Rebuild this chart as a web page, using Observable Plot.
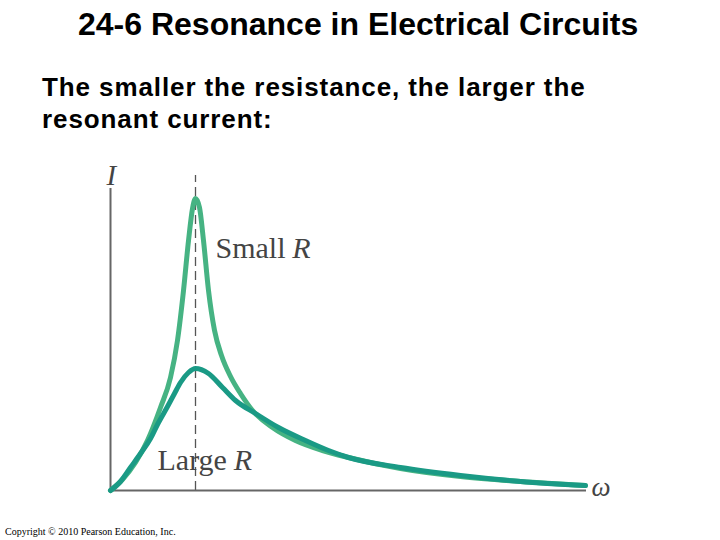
<!DOCTYPE html>
<html>
<head>
<meta charset="utf-8">
<script src="https://cdn.jsdelivr.net/npm/d3@7"></script>
<script src="https://cdn.jsdelivr.net/npm/@observablehq/plot@0.6"></script>
<style>
  html, body { margin: 0; padding: 0; background: #fff; }
  #page { position: relative; width: 720px; height: 540px; overflow: hidden; background: #fff; }
  .title { position: absolute; left: 78px; top: 8px; font-family: "Liberation Sans", Arial, sans-serif; font-weight: bold; font-size: 32px; line-height: 32px; color: #000; white-space: nowrap; }
  .sub { position: absolute; left: 42px; font-family: "Liberation Sans", Arial, sans-serif; font-weight: bold; font-size: 26px; line-height: 26px; letter-spacing: 0.9px; color: #000; white-space: nowrap; }
  .copy { position: absolute; left: 5px; top: 527px; font-family: "Liberation Serif", "Times New Roman", serif; font-size: 10px; line-height: 10px; color: #000; white-space: nowrap; }
  #chart { position: absolute; left: 0; top: 150px; }
</style>
</head>
<body>
<div id="page">
  <div class="title">24-6 Resonance in Electrical Circuits</div>
  <div class="sub" style="top:74px">The smaller the resistance, the larger the</div>
  <div class="sub" style="top:106px">resonant current:</div>
  <div class="copy">Copyright © 2010 Pearson Education, Inc.</div>
  <div id="chart"></div>
</div>
<script>
// Angular frequency (in units of the resonant frequency) and current (arbitrary units)
const omegaSmall = [0, 0.141, 0.294, 0.435, 0.588, 0.706, 0.788, 0.859, 0.918, 0.965, 1.0, 1.047, 1.094, 1.153, 1.224, 1.306, 1.412, 1.529, 1.671, 1.906, 2.176, 2.494, 2.8, 3.412, 4.118, 4.824, 5.588];
const currentSmall = [0, 11, 28, 50, 83, 113, 150, 200, 250, 282, 292, 283, 250, 200, 160, 135, 114, 97, 80, 63, 50, 40, 33, 22, 14, 9, 5];

const omegaLarge = [0, 0.118, 0.235, 0.353, 0.471, 0.553, 0.671, 0.753, 0.824, 0.918, 1.0, 1.153, 1.318, 1.471, 1.706, 1.976, 2.294, 2.565, 2.8, 3.412, 4.118, 4.824, 5.588];
const currentLarge = [0, 9, 23, 37, 52, 66, 84, 97, 108, 118, 122, 117, 103, 90, 77, 63, 50, 40, 33, 23, 15, 9, 5];

const resonance = [1];
const axisTop = 302;
const xMax = 5.6;

const smallData = omegaSmall.map((w, i) => ({w, I: currentSmall[i]}));
const largeData = omegaLarge.map((w, i) => ({w, I: currentLarge[i]}));

const serif = "'Liberation Serif', 'Times New Roman', serif";
const labelColor = "#444";

const plot = Plot.plot({
  width: 720,
  height: 360,
  marginLeft: 110,
  marginRight: 134,
  marginTop: 25,
  marginBottom: 20,
  x: {domain: [0, xMax], axis: null},
  y: {domain: [0, 315], axis: null},
  style: {background: "transparent", overflow: "visible"},
  marks: [
    Plot.ruleX(resonance, {y1: 0, y2: 315, stroke: "#555", strokeWidth: 1.3, strokeDasharray: "9,5"}),
    Plot.ruleY([0], {x1: 0, x2: xMax, stroke: "#666", strokeWidth: 2}),
    Plot.ruleX([0], {y1: 0, y2: axisTop, stroke: "#666", strokeWidth: 2}),
    Plot.line(smallData, {x: "w", y: "I", stroke: "#46b383", strokeWidth: 5, curve: "monotone-x"}),
    Plot.line(largeData, {x: "w", y: "I", stroke: "#1a9a85", strokeWidth: 5, curve: "monotone-x"}),
    Plot.text(["I"], {x: [0.01], y: [306], text: d => d, fontFamily: serif, fontStyle: "italic", fontSize: 29, fill: labelColor, lineAnchor: "bottom"}),
    Plot.text(["ω"], {x: [5.66], y: [-5], text: d => d, fontFamily: serif, fontStyle: "italic", fontSize: 27, fill: labelColor, textAnchor: "start", lineAnchor: "bottom"}),
    Plot.text(["Small"], {x: [1.235], y: [233], text: d => d, fontFamily: serif, fontSize: 30, fill: labelColor, textAnchor: "start", lineAnchor: "bottom"}),
    Plot.text(["R"], {x: [2.138], y: [233], text: d => d, fontFamily: serif, fontStyle: "italic", fontSize: 30, fill: labelColor, textAnchor: "start", lineAnchor: "bottom"}),
    Plot.text(["Large"], {x: [0.553], y: [21], text: d => d, fontFamily: serif, fontSize: 30, fill: labelColor, textAnchor: "start", lineAnchor: "bottom"}),
    Plot.text(["R"], {x: [1.451], y: [21], text: d => d, fontFamily: serif, fontStyle: "italic", fontSize: 30, fill: labelColor, textAnchor: "start", lineAnchor: "bottom"})
  ]
});
document.getElementById("chart").appendChild(plot);
</script>
</body>
</html>
